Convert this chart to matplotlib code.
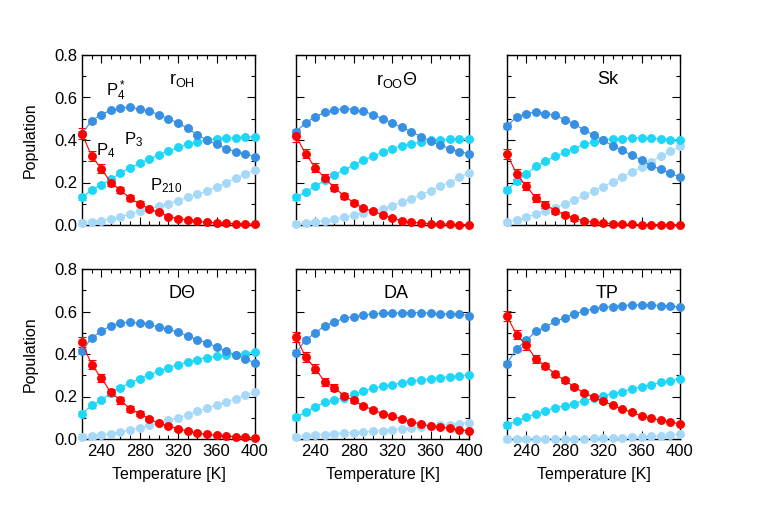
import numpy as np
import matplotlib
matplotlib.use("Agg")
import matplotlib.pyplot as plt
from matplotlib.ticker import MultipleLocator

plt.rcParams["font.family"] = ["Liberation Sans", "DejaVu Sans"]
plt.rcParams["mathtext.fontset"] = "custom"
plt.rcParams["mathtext.rm"] = "Liberation Sans"
plt.rcParams["mathtext.it"] = "Liberation Sans"

# temperaturas (K)
temperatura = list(range(220, 401, 10))

titulos = ["r$_{\\rm OH}$", "r$_{\\rm OO}$$\\Theta$", "Sk", "D$\\Theta$", "DA", "TP"]

# P4* (azul escuro)
p4s = [
    [0.43, 0.49, 0.52, 0.54, 0.55, 0.555, 0.545, 0.535, 0.52, 0.50, 0.48, 0.455, 0.425, 0.40, 0.38, 0.36, 0.345, 0.335, 0.32],
    [0.44, 0.48, 0.51, 0.53, 0.54, 0.548, 0.543, 0.535, 0.52, 0.50, 0.48, 0.46, 0.44, 0.415, 0.395, 0.375, 0.36, 0.345, 0.335],
    [0.466, 0.509, 0.524, 0.532, 0.524, 0.517, 0.496, 0.474, 0.449, 0.422, 0.398, 0.373, 0.351, 0.328, 0.304, 0.279, 0.262, 0.244, 0.225],
    [0.412, 0.477, 0.506, 0.534, 0.545, 0.55, 0.545, 0.539, 0.527, 0.516, 0.503, 0.484, 0.467, 0.453, 0.433, 0.412, 0.397, 0.377, 0.358],
    [0.405, 0.467, 0.498, 0.534, 0.55, 0.569, 0.575, 0.583, 0.589, 0.592, 0.592, 0.594, 0.594, 0.595, 0.592, 0.589, 0.588, 0.588, 0.581],
    [0.355, 0.425, 0.464, 0.506, 0.527, 0.553, 0.57, 0.589, 0.602, 0.613, 0.62, 0.623, 0.628, 0.631, 0.631, 0.631, 0.628, 0.627, 0.62],
]

# P3 (ciano)
p3 = [
    [0.13, 0.165, 0.19, 0.215, 0.245, 0.27, 0.29, 0.31, 0.33, 0.35, 0.365, 0.38, 0.39, 0.40, 0.405, 0.41, 0.41, 0.415, 0.415],
    [0.13, 0.157, 0.183, 0.21, 0.236, 0.26, 0.282, 0.304, 0.324, 0.342, 0.36, 0.373, 0.382, 0.39, 0.398, 0.40, 0.403, 0.405, 0.406],
    [0.167, 0.205, 0.24, 0.276, 0.30, 0.323, 0.342, 0.36, 0.38, 0.39, 0.40, 0.405, 0.406, 0.41, 0.41, 0.408, 0.405, 0.402, 0.398],
    [0.12, 0.158, 0.183, 0.217, 0.242, 0.264, 0.284, 0.30, 0.32, 0.336, 0.35, 0.363, 0.373, 0.383, 0.389, 0.394, 0.397, 0.402, 0.41],
    [0.102, 0.128, 0.152, 0.172, 0.184, 0.195, 0.211, 0.225, 0.239, 0.248, 0.256, 0.264, 0.272, 0.277, 0.284, 0.289, 0.294, 0.297, 0.303],
    [0.066, 0.084, 0.102, 0.12, 0.133, 0.147, 0.156, 0.167, 0.18, 0.191, 0.203, 0.213, 0.223, 0.236, 0.245, 0.256, 0.266, 0.275, 0.284],
]

# P210 (azul claro)
p210 = [
    [0.01, 0.015, 0.02, 0.03, 0.04, 0.05, 0.065, 0.075, 0.09, 0.10, 0.115, 0.13, 0.145, 0.16, 0.18, 0.20, 0.22, 0.24, 0.26],
    [0.005, 0.009, 0.014, 0.02, 0.027, 0.036, 0.046, 0.055, 0.065, 0.076, 0.091, 0.107, 0.124, 0.142, 0.162, 0.183, 0.20, 0.224, 0.244],
    [0.013, 0.024, 0.036, 0.052, 0.068, 0.08, 0.10, 0.118, 0.139, 0.16, 0.181, 0.203, 0.228, 0.249, 0.272, 0.298, 0.323, 0.346, 0.37],
    [0.01, 0.012, 0.018, 0.025, 0.033, 0.043, 0.053, 0.064, 0.075, 0.088, 0.10, 0.115, 0.13, 0.145, 0.16, 0.175, 0.19, 0.205, 0.222],
    [0.011, 0.014, 0.018, 0.021, 0.024, 0.027, 0.03, 0.033, 0.037, 0.04, 0.044, 0.048, 0.052, 0.056, 0.06, 0.064, 0.068, 0.072, 0.077],
    [0.0, 0.0, 0.0, 0.0, 0.0, 0.001, 0.001, 0.002, 0.002, 0.003, 0.004, 0.005, 0.006, 0.008, 0.01, 0.012, 0.015, 0.018, 0.022],
]

# P4 (vermelho)
p4 = [
    [0.43, 0.325, 0.265, 0.20, 0.165, 0.125, 0.10, 0.075, 0.06, 0.04, 0.03, 0.022, 0.017, 0.013, 0.01, 0.008, 0.006, 0.005, 0.004],
    [0.417, 0.335, 0.27, 0.22, 0.176, 0.137, 0.105, 0.079, 0.065, 0.049, 0.033, 0.02, 0.014, 0.009, 0.006, 0.005, 0.003, 0.002, 0.002],
    [0.335, 0.24, 0.183, 0.128, 0.096, 0.068, 0.049, 0.031, 0.02, 0.013, 0.008, 0.006, 0.004, 0.003, 0.002, 0.002, 0.001, 0.001, 0.001],
    [0.456, 0.35, 0.288, 0.219, 0.183, 0.142, 0.12, 0.094, 0.073, 0.063, 0.047, 0.038, 0.027, 0.022, 0.017, 0.014, 0.011, 0.008, 0.005],
    [0.48, 0.386, 0.331, 0.269, 0.242, 0.203, 0.183, 0.156, 0.138, 0.12, 0.108, 0.094, 0.081, 0.07, 0.061, 0.056, 0.05, 0.044, 0.038],
    [0.578, 0.491, 0.441, 0.378, 0.344, 0.305, 0.277, 0.245, 0.217, 0.198, 0.178, 0.159, 0.141, 0.125, 0.109, 0.097, 0.089, 0.081, 0.07],
]

# barras de erro
erro_p4 = [0.025, 0.022, 0.02, 0.018, 0.016, 0.014, 0.012, 0.01, 0.009, 0.008, 0.007, 0.006, 0.005, 0.005, 0.004, 0.004, 0.003, 0.003, 0.003]
erro_azul = [0.012, 0.01, 0.009, 0.008, 0.007, 0.006, 0.006, 0.005, 0.005, 0.005, 0.005, 0.005, 0.004, 0.004, 0.004, 0.004, 0.004, 0.004, 0.004]

COR_P4 = "#ff0000"
COR_P4S = "#3890e2"
COR_P3 = "#1ed6f8"
COR_P210 = "#a6d8f8"

fig = plt.figure(figsize=(7.63, 5.32), dpi=100)

lefts = [82, 296, 507]
bottoms = [225, 439]
W, H = 763.0, 532.0

for i in range(6):
    lin, col = divmod(i, 3)
    ax = fig.add_axes([lefts[col] / W, (H - bottoms[lin]) / H, 173 / W, 170 / H])

    series = [
        (p210[i], COR_P210, erro_azul),
        (p3[i], COR_P3, erro_azul),
        (p4s[i], COR_P4S, erro_azul),
        (p4[i], COR_P4, erro_p4),
    ]
    for y, cor, err in series:
        ax.errorbar(temperatura, y, yerr=err, color=cor, ecolor=cor, elinewidth=0.8,
                    capsize=3, capthick=0.8, lw=0.8, marker="o", ms=5.4,
                    mec=cor, mfc=cor, clip_on=False, zorder=3)

    ax.set_xlim(220, 400)
    ax.set_ylim(0, 0.8)
    ax.xaxis.set_minor_locator(MultipleLocator(10))
    ax.yaxis.set_major_locator(MultipleLocator(0.2))
    ax.yaxis.set_minor_locator(MultipleLocator(0.1))
    ax.set_xticks([240, 280, 320, 360, 400])
    ax.tick_params(which="both", direction="in", top=True, right=True, labelsize=12)
    ax.tick_params(which="major", length=6, width=0.8)
    ax.tick_params(which="minor", length=3, width=0.8)
    for s in ax.spines.values():
        s.set_linewidth(1.0)

    if col == 0:
        ax.yaxis.set_major_formatter(matplotlib.ticker.FormatStrFormatter("%.1f"))
        ax.set_ylabel("Population", fontsize=11.5, labelpad=12)
    else:
        ax.set_yticklabels([])
    if lin == 1:
        ax.set_xlabel("Temperature [K]", fontsize=11.5, labelpad=6)
    else:
        ax.set_xticklabels([])

    ax.text(0.58, 0.855, titulos[i], transform=ax.transAxes, ha="center", va="center", fontsize=13)

    if i == 0:
        ax.text(245, 0.63, "P$^*_4$", fontsize=12, va="center")
        ax.text(264, 0.40, "P$_3$", fontsize=12, va="center")
        ax.text(235, 0.35, "P$_4$", fontsize=12, va="center")
        ax.text(291, 0.185, "P$_{210}$", fontsize=12, va="center")

fig.savefig("out.png", dpi=100)
